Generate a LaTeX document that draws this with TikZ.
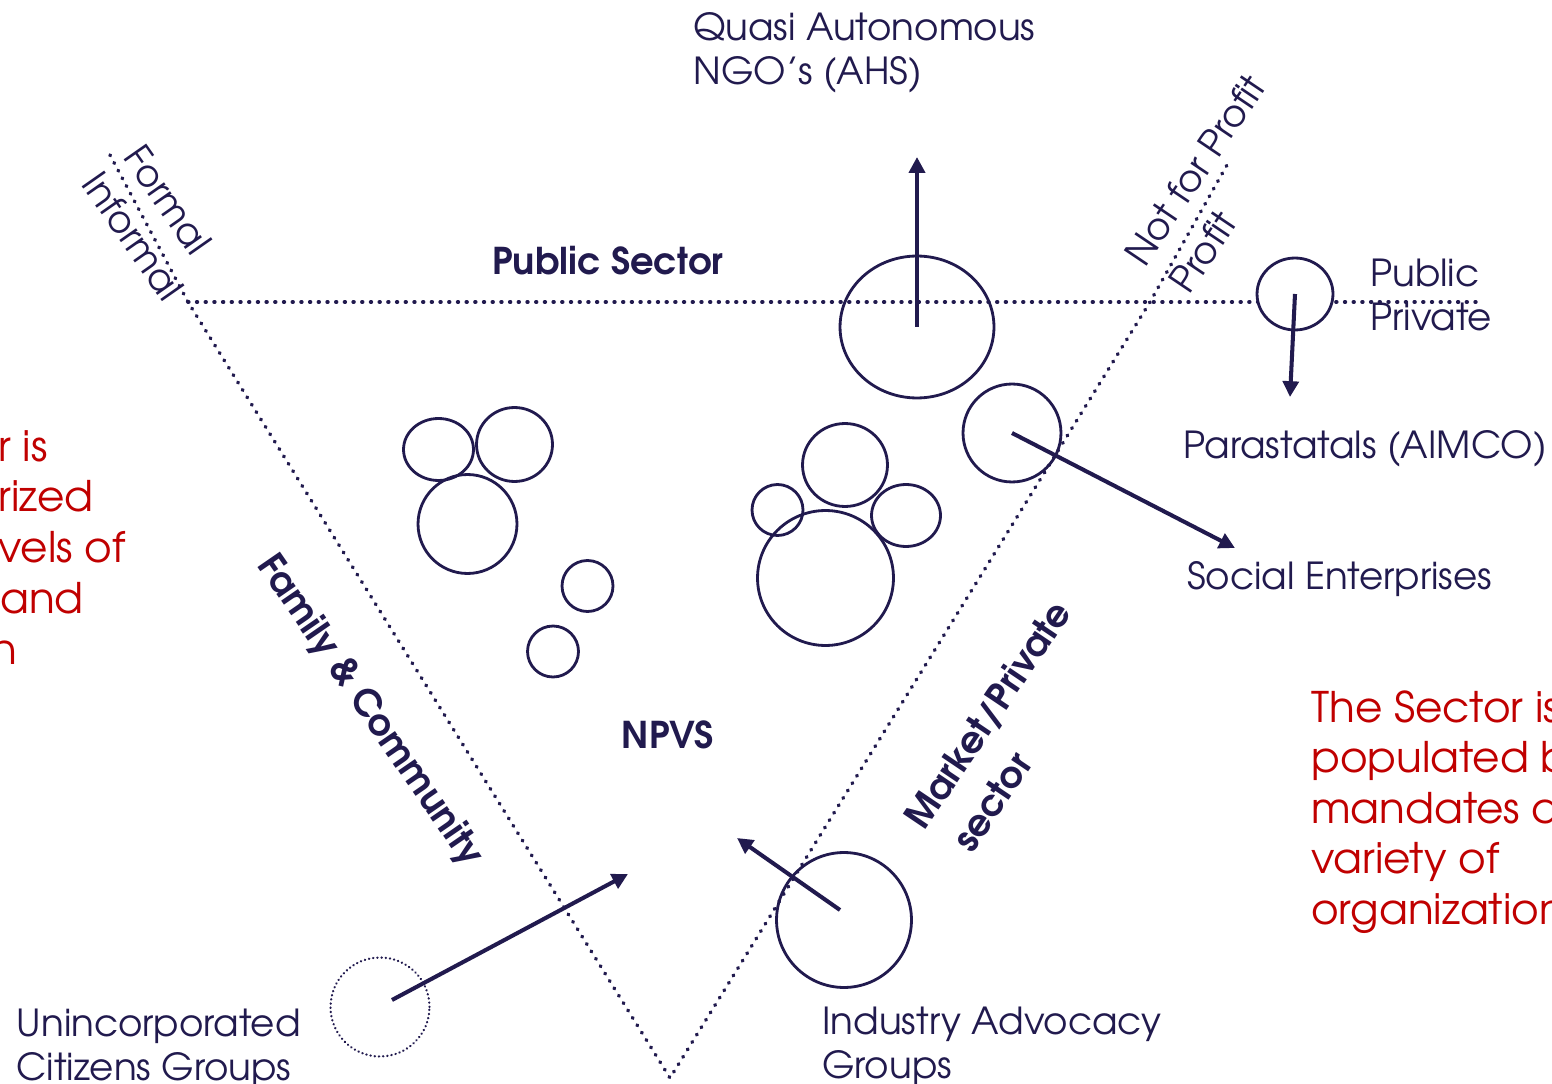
\documentclass[tikz,border=0pt]{standalone}
\usepackage{fontspec}
\setmainfont{TeX Gyre Adventor}
\usetikzlibrary{arrows.meta,shapes.geometric}
\definecolor{navy}{HTML}{211A4E}
\definecolor{dred}{HTML}{C00000}
\begin{document}
\begin{tikzpicture}[x=0.02cm,y=-0.02cm,
  lab/.style={text=navy, font=\fontsize{21.2}{25}\selectfont, inner sep=0pt},
  blab/.style={text=navy, font=\fontsize{21}{25}\selectfont\bfseries, inner sep=0pt},
  rlab/.style={text=dred, font=\fontsize{24}{28}\selectfont, inner sep=0pt, anchor=base west},
  dotline/.style={draw=navy, line width=2.1pt, line cap=round, dash pattern=on 0.4pt off 4.55pt},
  bub/.style 2 args={draw=navy, line width=1.6pt, ellipse, inner sep=0pt, minimum width=#1*0.04cm, minimum height=#2*0.04cm},
  dotbub/.style={draw=navy, line width=1.3pt, line cap=round, dash pattern=on 0.2pt off 2.2pt, circle, inner sep=0pt, minimum size=#1*0.04cm},
  arr/.style={draw=navy, line width=2.3pt, -{Triangle[length=9pt,width=9pt]}},
]
\useasboundingbox (0,0) rectangle (1552,1084);

% dotted frame
\coordinate (fTop) at (110,155);
\coordinate (tl) at (188,302);
\coordinate (bot) at (670,1078);
\coordinate (tr) at (1150,302);
\coordinate (nTop) at (1227,165);
\coordinate (hEnd) at (1480,302);
\draw[dotline] (fTop) -- (tl) -- (bot) -- (tr) -- (nTop);
\draw[dotline] (tl) -- (hEnd);

% bubbles
\node[bub={77}{71}] (qc) at (917,327) {};
\node[bub={49}{49}] (sc) at (1012,433) {};
\node[bub={38}{36}, fill=white] (pc) at (1295,294) {};
\node[bub={35}{31}] (l1c) at (438.5,449.5) {};
\node[bub={38}{37}] (l2c) at (514.5,444.5) {};
\node[bub={49.5}{49.5}] (l3c) at (467.5,524) {};
\node[bub={25.5}{25.5}] (l4c) at (587.5,586) {};
\node[bub={25.5}{25.5}] (l5c) at (553,651.5) {};
\node[bub={42.5}{41.5}] (r1c) at (845,465) {};
\node[bub={25.5}{25.5}] (r2c) at (777.5,510) {};
\node[bub={34.5}{31}] (r3c) at (906,515.5) {};
\node[bub={68}{67.5}] (r4c) at (825.5,578) {};
\node[bub={67.5}{67.5}] (ic) at (844,920) {};
\node[dotbub=49.5] (uc) at (380,1007) {};

% arrows
\coordinate (qtip) at (917,157);
\coordinate (stip) at (1235,548);
\coordinate (ptip) at (1290,397);
\coordinate (itail) at (840,910);
\coordinate (itip) at (737,838);
\coordinate (utail) at (392,1000);
\coordinate (utip) at (628,874);
\draw[arr] (qc.center) -- (qtip);
\draw[arr] (sc.center) -- (stip);
\draw[arr] (pc.center) -- (ptip);
\draw[arr] (itail) -- (itip);
\draw[arr] (utail) -- (utip);

% labels
\node[lab, anchor=base west] (q1) at (693,41) {Quasi Autonomous};
\node[lab, anchor=base west] (q2) at (693,85) {NGO’s (AHS)};
\node[blab, anchor=base] (ps) at (608,275) {Public Sector};
\node[lab, anchor=base west] (pub) at (1370,287) {Public};
\node[lab, anchor=base west] (pri) at (1370,331) {Private};
\node[lab, anchor=base west] (para) at (1183,459) {Parastatals (AIMCO)};
\node[lab, anchor=base west] (soc) at (1187,589) {Social Enterprises};
\node[blab, anchor=base] (npvs) at (668,748) {NPVS};
\node[lab, anchor=base west] (u1) at (16,1036) {Unincorporated};
\node[lab, anchor=base west] (u2) at (16,1080) {Citizens Groups};
\node[lab, anchor=base west] (i1) at (822,1034) {Industry Advocacy};
\node[lab, anchor=base west] (i2) at (822,1078) {Groups};

\node[lab, rotate=-55] (formal) at (168,200) {Formal};
\node[lab, rotate=-55] (informal) at (133,236) {Informal};
\node[lab, rotate=56] (nfp) at (1195,170) {Not for Profit};
\node[lab, rotate=56] (prof) at (1203,252) {Profit};
\node[blab, rotate=-55.4] (fam) at (370,711) {Family \& Community};
\node[blab, rotate=56] (mkt) at (989,716) {Market/Private};
\node[blab, rotate=56] (sec) at (992,802) {sector};

% red notes
\node[rlab] (ln1) at (-2,461) {r is};
\node[rlab] (ln2) at (-2,511) {rized};
\node[rlab] (ln3) at (-2,562) {vels of};
\node[rlab] (ln4) at (0,613) {and};
\node[rlab] (ln5) at (-9,664) {n};
\node[rlab] (rn1) at (1311,722) {The Sector is};
\node[rlab] (rn2) at (1311,772) {populated b};
\node[rlab] (rn3) at (1311,823) {mandates a};
\node[rlab] (rn4) at (1311,873) {variety of};
\node[rlab] (rn5) at (1311,924) {organization};
\end{tikzpicture}
\end{document}
